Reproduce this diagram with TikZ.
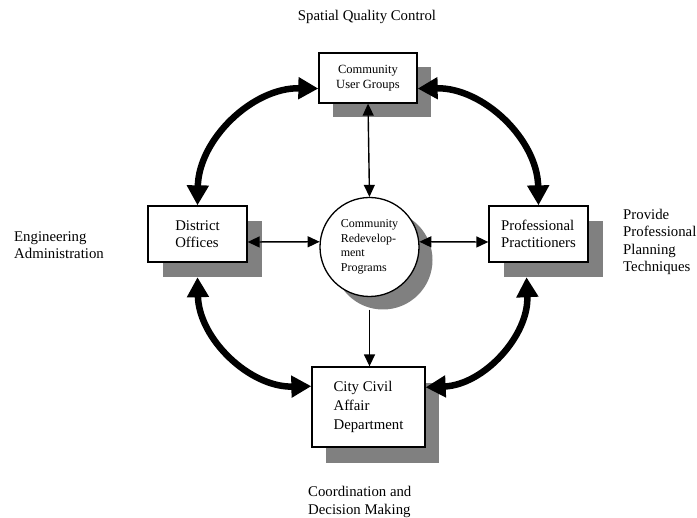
\documentclass[tikz,border=0pt]{standalone}
\usepackage{fontspec}
\setmainfont{Liberation Serif}
\usetikzlibrary{arrows.meta,calc}
\definecolor{shadowgray}{RGB}{128,128,128}
\begin{document}
\begin{tikzpicture}[x=1pt,y=1pt,
  box/.style={draw, line width=1.3pt, fill=white, inner sep=0pt},
  shade/.style={fill=shadowgray, draw=none, inner sep=0pt},
  bigarrow/.style={line width=6.5pt, {Triangle[length=20pt,width=21pt]}-{Triangle[length=20pt,width=21pt]}},
  thinarrow/.style={line width=1.4pt, -{Triangle[length=12pt,width=11pt]}},
  thinboth/.style={line width=1.4pt, {Triangle[length=12pt,width=11pt]}-{Triangle[length=12pt,width=11pt]}},
  bigfont/.style={font=\fontsize{14.8}{17.5}\selectfont},
  lbl/.style={bigfont, align=left, inner sep=0pt}]
\useasboundingbox (0,0) rectangle (697,-518);
\fill[white] (0,0) rectangle (697,-518);

% shadows
\node[shade, minimum width=98pt, minimum height=50pt] (cugS) at (382,-92) {};
\node[shade, minimum width=99pt, minimum height=56pt] (distS) at (212.5,-249) {};
\node[shade, minimum width=99pt, minimum height=56pt] (profS) at (553.5,-249) {};
\node[shade, minimum width=113pt, minimum height=80pt] (cityS) at (382.5,-423) {};
\node[shade, circle, minimum size=99pt] (circS) at (383,-260) {};

% boxes
\node[box, minimum width=98pt, minimum height=50pt, align=center,
      font=\fontsize{12.5}{15}\selectfont] (cug) at (368,-78) {Community\\User Groups};
\node[box, minimum width=99pt, minimum height=56pt, align=left, bigfont] (dist) at (197.5,-234) {District\\Offices};
\node[box, minimum width=99pt, minimum height=56pt, align=left, bigfont] (prof) at (538.5,-234) {Professional\\Practitioners};
\node[box, minimum width=113pt, minimum height=80pt, align=left,
      font=\fontsize{14.8}{19}\selectfont] (city) at (368.5,-407) {City Civil\\Affair\\Department};
\node[box, circle, minimum size=99pt, align=left,
      font=\fontsize{12}{14.5}\selectfont] (circ) at (369.5,-247) {Community\\Redevelop-\\ment\\Programs};

% thin connectors
\draw[thinboth] (cug.south) -- (circ.north);
\draw[thinarrow] (circ.center |- circS.south) -- (circ.center |- city.north);
\draw[thinboth] ([yshift=-8pt]dist.east) -- (circ.174);
\draw[thinboth] ([yshift=-8pt]prof.west) -- (circ.6);

% thick curved connectors
\draw[bigarrow] (dist.north) to[bend left=45] (cug.192);
\draw[bigarrow] (cug.-12) to[bend left=45] (prof.north);
\draw[bigarrow] ($(prof.south |- profS.south)+(-12,0)$) to[bend left=45] (city.19.5);
\draw[bigarrow] (city.160.5) to[bend left=45] (dist.south |- distS.south);

% outer labels
\node[bigfont, inner sep=0pt] (top) at (367,-17) {Spatial Quality Control};
\node[lbl, anchor=west] (left) at (14,-245) {Engineering\\Administration};
\node[lbl, anchor=west] (right) at (623,-242) {Provide\\Professional\\Planning\\Techniques};
\node[lbl, anchor=west] (bottom) at (308,-502) {Coordination and\\Decision Making};
\end{tikzpicture}
\end{document}
